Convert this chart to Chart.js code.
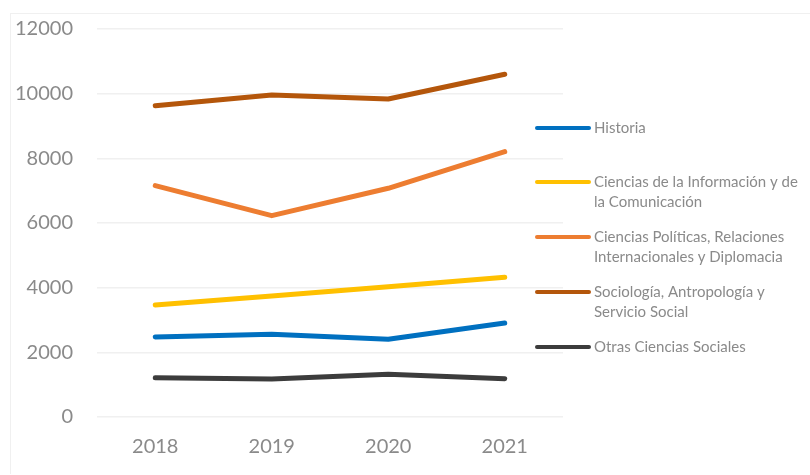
<!DOCTYPE html>
<html>
<head>
<meta charset="utf-8">
<script src="https://cdn.jsdelivr.net/npm/chart.js@4"></script>
<style>
  html, body { margin: 0; padding: 0; background: #fff; }
  #wrap { position: relative; width: 810px; height: 475px; }
  #frame { position: absolute; left: 10px; top: 13px; right: -2px; bottom: 1px;
           border-left: 1px solid #f0f0f0; border-top: 1px solid #f0f0f0; pointer-events: none; }
  canvas { display: block; }
</style>
</head>
<body>
<div id="wrap">
  <div id="frame"></div>
  <canvas id="lineChart" width="810" height="475"></canvas>
</div>
<script>
// Años y series
const years = ['2018', '2019', '2020', '2021'];
const historia = [2474, 2557, 2403, 2907];
const cienciasInfo = [3464, 3740, 4031, 4320];
const cienciasPoliticas = [7155, 6227, 7073, 8207];
const sociologia = [9628, 9960, 9836, 10600];
const otras = [1216, 1175, 1320, 1185];

const seriesLabels = [
  ['Historia'],
  ['Ciencias de la Información y de', 'la Comunicación'],
  ['Ciencias Políticas, Relaciones', 'Internacionales y Diplomacia'],
  ['Sociología, Antropología y', 'Servicio Social'],
  ['Otras Ciencias Sociales']
];
const seriesValues = [historia, cienciasInfo, cienciasPoliticas, sociologia, otras];
const seriesColors = ['#0070C0', '#FFC000', '#ED7D31', '#B4560B', '#3C3C3C'];

const fontFamily = 'Lato, "Open Sans", sans-serif';
const gray = '#8a8a8a';

// Leyenda dibujada a la derecha, con una fila por serie
const legendRows = [128, 182, 237, 292, 347];
const sideLegend = {
  id: 'sideLegend',
  afterDraw(chart) {
    const c = chart.ctx;
    c.save();
    chart.data.datasets.forEach((ds, i) => {
      const y = legendRows[i];
      c.strokeStyle = ds.borderColor;
      c.lineWidth = 4;
      c.lineCap = 'round';
      c.beginPath();
      c.moveTo(537, y);
      c.lineTo(589, y);
      c.stroke();
      c.fillStyle = gray;
      c.font = '15px ' + fontFamily;
      c.textBaseline = 'middle';
      c.textAlign = 'left';
      seriesLabels[i].forEach((line, j) => c.fillText(line, 594, y + j * 20));
    });
    c.restore();
  }
};

new Chart(document.getElementById('lineChart'), {
  type: 'line',
  data: {
    labels: years,
    datasets: seriesValues.map((vals, i) => ({
      label: seriesLabels[i].join(' '),
      data: vals,
      borderColor: seriesColors[i],
      backgroundColor: seriesColors[i],
      borderWidth: 5,
      borderCapStyle: 'round',
      borderJoinStyle: 'round',
      pointRadius: 0,
      tension: 0
    }))
  },
  options: {
    responsive: false,
    animation: false,
    layout: { padding: { left: 0, right: 247, top: 29, bottom: 0 } },
    plugins: { legend: { display: false }, tooltip: { enabled: false } },
    scales: {
      x: {
        offset: true,
        grid: { display: false },
        border: { display: false },
        ticks: { color: gray, font: { family: fontFamily, size: 20 }, padding: 10 },
        afterFit(scale) { scale.height = 58; }
      },
      y: {
        min: 0,
        max: 12000,
        ticks: {
          stepSize: 2000,
          color: gray,
          // lineHeight bajo para que la etiqueta superior no empuje el área del gráfico
          font: { family: fontFamily, size: 20, lineHeight: 0.5 },
          padding: 24,
          callback: v => String(v)
        },
        grid: { color: '#f0f0f0', lineWidth: 1.5, drawTicks: false },
        border: { display: false },
        afterFit(scale) { scale.width = 97; }
      }
    }
  },
  plugins: [sideLegend]
});
</script>
</body>
</html>
